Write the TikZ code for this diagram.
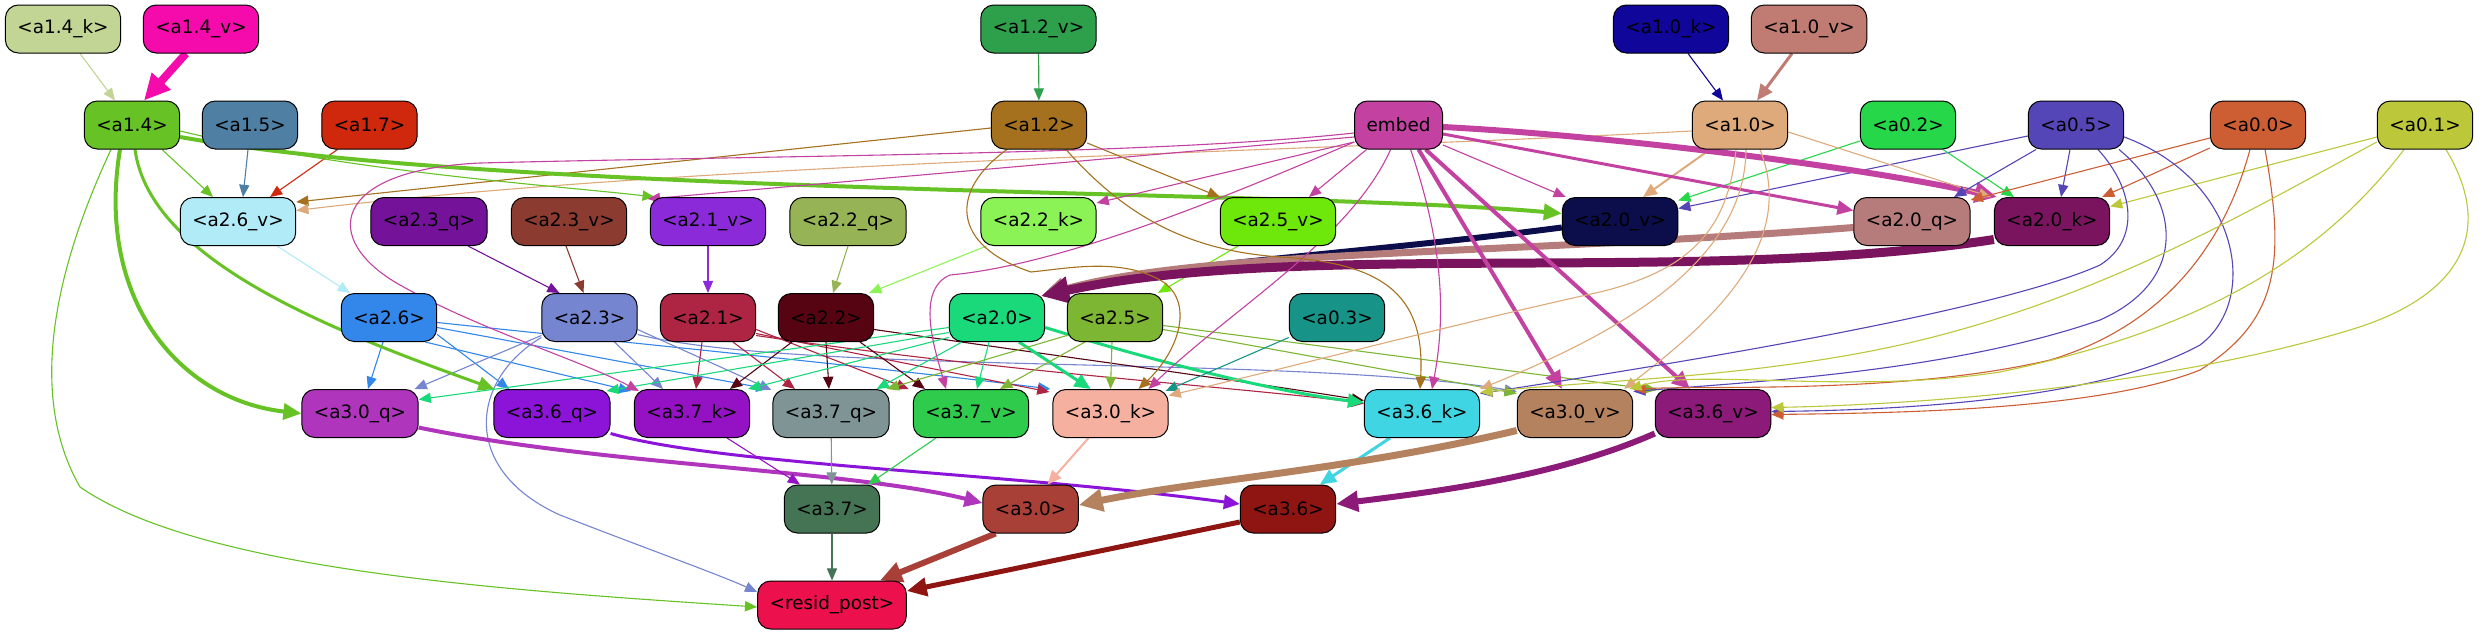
\documentclass[tikz,border=0pt]{standalone}
\usepackage{fontspec}
\setmainfont{DejaVu Sans}
\usetikzlibrary{arrows.meta}
\pgfdeclarelayer{bg}
\pgfsetlayers{bg,main}
\newcommand{\nodefont}{\fontsize{18.4pt}{22pt}\selectfont}
\definecolor{c14k}{HTML}{C2D595}
\definecolor{c14v}{HTML}{F50AAB}
\definecolor{c12v}{HTML}{2EA04C}
\definecolor{c10k}{HTML}{10069A}
\definecolor{c10v}{HTML}{C07B72}
\definecolor{c14}{HTML}{67C325}
\definecolor{c15}{HTML}{4F80A4}
\definecolor{c17}{HTML}{CF280C}
\definecolor{c12}{HTML}{A5711E}
\definecolor{cemb}{HTML}{C341A0}
\definecolor{c10}{HTML}{DEAA7B}
\definecolor{c02}{HTML}{27D74A}
\definecolor{c05}{HTML}{5546B8}
\definecolor{c00}{HTML}{CD5E34}
\definecolor{c01}{HTML}{BCC83A}
\definecolor{c26v}{HTML}{B2EBF8}
\definecolor{c23q}{HTML}{741399}
\definecolor{c23v}{HTML}{8C3B30}
\definecolor{c21v}{HTML}{8B2AD8}
\definecolor{c22q}{HTML}{96B455}
\definecolor{c22k}{HTML}{8CF356}
\definecolor{c25v}{HTML}{6EE70A}
\definecolor{c20v}{HTML}{0B0E4B}
\definecolor{c20q}{HTML}{B67B7B}
\definecolor{c20k}{HTML}{7A145E}
\definecolor{c26}{HTML}{3386EA}
\definecolor{c23}{HTML}{7585D0}
\definecolor{c21}{HTML}{AE2443}
\definecolor{c22}{HTML}{560312}
\definecolor{c20}{HTML}{19D97B}
\definecolor{c25}{HTML}{7DB632}
\definecolor{c03}{HTML}{179487}
\definecolor{c30q}{HTML}{B035BD}
\definecolor{c36q}{HTML}{8C14D8}
\definecolor{c37k}{HTML}{9511C4}
\definecolor{c37q}{HTML}{7E9495}
\definecolor{c37v}{HTML}{2ECB4C}
\definecolor{c30k}{HTML}{F6B0A0}
\definecolor{c36k}{HTML}{3FD5E2}
\definecolor{c30v}{HTML}{B58260}
\definecolor{c36v}{HTML}{8B1A79}
\definecolor{c37}{HTML}{447453}
\definecolor{c30}{HTML}{A94038}
\definecolor{c36}{HTML}{8E1511}
\definecolor{cres}{HTML}{EC104D}
\begin{document}
\begin{tikzpicture}[x=1pt,y=-1pt,
  nd/.style={draw=black, line width=1pt, rounded corners=13pt, minimum height=48pt,
    inner xsep=12pt, inner ysep=0pt, font=\nodefont, text=black},
  ed/.style={line width=#1, -{Triangle[length=10pt 2, width=8pt 2]}},
  ed/.default=1.1pt]
\useasboundingbox (0,0) rectangle (2482,635);
% row 1
\node[nd, fill=c14k] (a14k) at (63,29) {<a1.4\_k>};
\node[nd, fill=c14v] (a14v) at (201,29) {<a1.4\_v>};
\node[nd, fill=c12v] (a12v) at (1038.5,29) {<a1.2\_v>};
\node[nd, fill=c10k] (a10k) at (1671,29) {<a1.0\_k>};
\node[nd, fill=c10v] (a10v) at (1809,29) {<a1.0\_v>};
% row 2
\node[nd, fill=c14] (a14) at (132,125) {<a1.4>};
\node[nd, fill=c15] (a15) at (250,125) {<a1.5>};
\node[nd, fill=c17] (a17) at (369.5,125) {<a1.7>};
\node[nd, fill=c12] (a12) at (1039,125) {<a1.2>};
\node[nd, fill=cemb] (embed) at (1398.6,125) {embed};
\node[nd, fill=c10] (a10) at (1740,125) {<a1.0>};
\node[nd, fill=c02] (a02) at (1908,125) {<a0.2>};
\node[nd, fill=c05] (a05) at (2076,125) {<a0.5>};
\node[nd, fill=c00] (a00) at (2258,125) {<a0.0>};
\node[nd, fill=c01] (a01) at (2425,125) {<a0.1>};
% row 3
\node[nd, fill=c26v] (a26v) at (238,221.5) {<a2.6\_v>};
\node[nd, fill=c23q] (a23q) at (429,221.5) {<a2.3\_q>};
\node[nd, fill=c23v] (a23v) at (569,221.5) {<a2.3\_v>};
\node[nd, fill=c21v] (a21v) at (708,221.5) {<a2.1\_v>};
\node[nd, fill=c22q] (a22q) at (848,221.5) {<a2.2\_q>};
\node[nd, fill=c22k] (a22k) at (1038.5,221.5) {<a2.2\_k>};
\node[nd, fill=c25v] (a25v) at (1278,221.5) {<a2.5\_v>};
\node[nd, fill=c20v] (a20v) at (1620,221.5) {<a2.0\_v>};
\node[nd, fill=c20q] (a20q) at (1912,221.5) {<a2.0\_q>};
\node[nd, fill=c20k] (a20k) at (2052,221.5) {<a2.0\_k>};
% row 4
\node[nd, fill=c26] (a26) at (389,317.5) {<a2.6>};
\node[nd, fill=c23] (a23) at (589.5,317.5) {<a2.3>};
\node[nd, fill=c21] (a21) at (708,317.5) {<a2.1>};
\node[nd, fill=c22] (a22) at (826,317.5) {<a2.2>};
\node[nd, fill=c20] (a20) at (997,317.5) {<a2.0>};
\node[nd, fill=c25] (a25) at (1115,317.5) {<a2.5>};
\node[nd, fill=c03] (a03) at (1337,317.5) {<a0.3>};
% row 5
\node[nd, fill=c30q] (a30q) at (360,413.5) {<a3.0\_q>};
\node[nd, fill=c36q] (a36q) at (552,413.5) {<a3.6\_q>};
\node[nd, fill=c37k] (a37k) at (692,413.5) {<a3.7\_k>};
\node[nd, fill=c37q] (a37q) at (831,413.5) {<a3.7\_q>};
\node[nd, fill=c37v] (a37v) at (971,413.5) {<a3.7\_v>};
\node[nd, fill=c30k] (a30k) at (1110.5,413.5) {<a3.0\_k>};
\node[nd, fill=c36k] (a36k) at (1422,413.5) {<a3.6\_k>};
\node[nd, fill=c30v] (a30v) at (1575,413.5) {<a3.0\_v>};
\node[nd, fill=c36v] (a36v) at (1713,413.5) {<a3.6\_v>};
% row 6
\node[nd, fill=c37] (a37) at (832,509) {<a3.7>};
\node[nd, fill=c30] (a30) at (1030.6,509) {<a3.0>};
\node[nd, fill=c36] (a36) at (1288,509) {<a3.6>};
% row 7
\node[nd, fill=cres] (resid) at (832,605) {<resid\_post>};

\begin{pgfonlayer}{bg}
\fill[white] (0,0) rectangle (2482,635);
% row1 -> row2
\draw[ed, c14k] ([xshift=17pt]a14k.south) -- ([xshift=-17pt]a14.north);
\draw[ed=8pt, c14v] ([xshift=-15pt]a14v.south) -- ([xshift=12pt]a14.north);
\draw[ed, c12v] (a12v) -- (a12);
\draw[ed, c10k] ([xshift=17pt]a10k.south) -- ([xshift=-17pt]a10.north);
\draw[ed=3pt, c10v] ([xshift=-17pt]a10v.south) -- ([xshift=17pt]a10.north);
% row2 -> row3
\draw[ed, c14] ([xshift=30pt]a14.south) -- ([xshift=-25pt]a26v.north);
\draw[ed, c15] ([xshift=-2pt]a15.south) -- ([xshift=5pt]a26v.north);
\draw[ed, c17] ([xshift=-32pt]a17.south) -- ([xshift=32pt]a26v.north);
\draw[ed, c12] ([yshift=-3pt]a12.west) -- ([yshift=-5pt]a26v.north east);
\draw[ed, c10] ([yshift=-6pt]a10.west) .. controls (1300,152) and (700,162) .. ([yshift=11pt]a26v.east);
\draw[ed, c14] ([yshift=-6pt]a14.east) .. controls (350,172) and (550,185) .. ([xshift=5pt]a21v.north west);
\draw[ed=4pt, c14] ([yshift=-12pt]a14.east) .. controls (500,195) and (1300,190) .. ([yshift=8pt]a20v.west);
\draw[ed, cemb] ([yshift=-12pt]embed.west) -- ([xshift=-2pt,yshift=-2pt]a21v.north west);
\draw[ed, cemb] ([yshift=-17pt]embed.west) -- ([yshift=-6pt]a22k.north east);
\draw[ed, cemb] ([xshift=-32pt]embed.south) -- ([xshift=31pt]a25v.north);
\draw[ed, c12] ([yshift=-18pt]a12.east) -- (a25v.north west);
\draw[ed, cemb] ([yshift=-20pt]embed.east) -- ([xshift=4pt]a20v.north west);
\draw[ed=2pt, c10] ([xshift=-30pt]a10.south) -- ([xshift=23pt]a20v.north);
\draw[ed, c02] ([yshift=-16pt]a02.west) -- ([yshift=21pt]a20v.east);
\draw[ed, c05] ([yshift=-11pt]a05.west) -- ([yshift=13pt]a20v.east);
\draw[ed=3pt, cemb] ([yshift=-9pt]embed.east) -- ([yshift=11pt]a20q.west);
\draw[ed=6pt, cemb] ([yshift=-2pt]embed.east) .. controls (1600,135) and (1850,165) .. ([xshift=3pt]a20k.north west);
\draw[ed, c10] ([yshift=-7pt]a10.east) -- ([xshift=-3pt]a20k.north west);
\draw[ed, c02] ([xshift=35pt]a02.south) -- ([xshift=20pt]a20k.north west);
\draw[ed, c05] ([xshift=-40pt]a05.south) -- ([xshift=42pt]a20q.north);
\draw[ed, c05] ([xshift=-6pt]a05.south) -- ([xshift=9pt]a20k.north);
\draw[ed, c00] ([yshift=-13pt]a00.west) -- ([yshift=-3pt]a20q.north east);
\draw[ed, c00] ([yshift=-23pt]a00.west) -- ([xshift=-8pt]a20k.north east);
\draw[ed, c01] ([yshift=-12pt]a01.west) -- ([yshift=15pt]a20k.east);
% row3 -> row4
\draw[ed, c26v] ([xshift=39pt]a26v.south) -- ([xshift=-39pt]a26.north);
\draw[ed, c23q] ([xshift=39pt]a23q.south) -- ([xshift=-30pt]a23.north);
\draw[ed, c23v] ([xshift=-3pt]a23v.south) -- ([xshift=-6pt]a23.north);
\draw[ed, c21v] (a21v) -- (a21);
\draw[ed, c22q] (a22q.south) -- ([xshift=7pt]a22.north);
\draw[ed, c22k] ([xshift=-52pt]a22k.south) -- ([xshift=-5pt]a22.north east);
\draw[ed, c25v] ([xshift=-40pt]a25v.south) -- ([xshift=43pt]a25.north);
\draw[ed=6pt, c20v] ([yshift=-6pt]a20v.west) .. controls (1350,255) and (1150,265) .. ([xshift=-4pt,yshift=-3pt]a20.north east);
\draw[ed=7pt, c20q] ([yshift=-6pt]a20q.west) .. controls (1500,255) and (1200,250) .. ([xshift=-4pt,yshift=-3pt]a20.north east);
\draw[ed=9pt, c20k] ([yshift=-18pt]a20k.west) .. controls (1700,285) and (1300,240) .. ([xshift=-4pt,yshift=-3pt]a20.north east);
% row4 -> row5
\draw[ed, c26] ([xshift=-6pt]a26.south) -- ([xshift=8pt]a30q.north);
\draw[ed, c26] ([yshift=-17pt]a26.east) -- ([xshift=-43pt]a36q.north);
\draw[ed, c26] ([xshift=-12pt]a26.south east) -- ([xshift=-3pt,yshift=-2pt]a37k.north west);
\draw[ed, c26] ([yshift=-10pt]a26.east) -- ([xshift=-4pt]a37q.north west);
\draw[ed, c26] ([yshift=-5pt]a26.east) .. controls (700,350) and (900,370) .. ([xshift=-2pt]a30k.north west);
\draw[ed, c23] ([yshift=-18pt]a23.west) -- ([xshift=-4pt]a30q.north east);
\draw[ed, c23] ([xshift=25pt]a23.south) -- ([xshift=-29pt]a37k.north);
\draw[ed, c23] ([yshift=-12pt]a23.east) -- ([xshift=-1pt,yshift=-1pt]a37q.north west);
\draw[ed, c23] ([yshift=-17pt]a23.east) .. controls (800,375) and (1300,355) .. ([yshift=22pt]a30v.west);
\draw[ed, c23] ([yshift=-20pt]a23.west) .. controls (470,380) and (460,470) .. (560,515) .. controls (650,550) and (720,575) .. ([yshift=13pt]resid.west);
\draw[ed, c21] ([xshift=-6pt]a21.south) -- ([xshift=4pt]a37k.north);
\draw[ed, c21] ([xshift=25pt]a21.south) -- ([xshift=-36pt]a37q.north);
\draw[ed, c21] ([yshift=-12pt]a21.east) -- ([xshift=-4pt]a37v.north west);
\draw[ed, c21] ([yshift=-16pt]a21.east) -- ([xshift=-3pt,yshift=-3pt]a30k.north west);
\draw[ed, c21] ([yshift=-18pt]a21.east) .. controls (1000,372) and (1250,388) .. ([yshift=10pt]a36k.west);
\draw[ed, c22] ([xshift=-34pt]a22.south) -- ([xshift=38pt]a37k.north);
\draw[ed, c22] (a22.south) -- ([xshift=-2pt]a37q.north);
\draw[ed, c22] ([xshift=34pt]a22.south) -- ([xshift=-46pt]a37v.north);
\draw[ed, c22] ([yshift=-12pt]a22.east) .. controls (1100,362) and (1250,382) .. ([yshift=13pt]a36k.west);
\draw[ed, c20] ([yshift=-10pt]a20.west) -- ([yshift=14pt]a30q.east);
\draw[ed, c20] ([yshift=-15pt]a20.west) -- ([xshift=-4pt,yshift=-2pt]a36q.north east);
\draw[ed, c20] ([yshift=-20pt]a20.west) -- ([xshift=-2pt]a37k.north east);
\draw[ed, c20] ([xshift=-35pt]a20.south) -- ([xshift=-13pt]a37q.north east);
\draw[ed, c20] ([xshift=-8pt]a20.south) -- ([xshift=6pt]a37v.north);
\draw[ed=3pt, c20] ([xshift=22pt]a20.south) -- ([xshift=-20pt]a30k.north);
\draw[ed=3pt, c20] ([yshift=-10pt]a20.east) .. controls (1200,375) and (1300,395) .. ([yshift=11pt]a36k.west);
\draw[ed, c25] ([yshift=-18pt]a25.west) -- ([xshift=-3pt]a37q.north east);
\draw[ed, c25] ([xshift=-30pt]a25.south) -- ([xshift=29pt]a37v.north);
\draw[ed, c25] ([xshift=-3pt]a25.south) -- (a30k.north);
\draw[ed, c25] ([yshift=-12pt]a25.east) -- ([yshift=20pt]a30v.west);
\draw[ed, c25] ([yshift=-8pt]a25.east) -- ([xshift=2pt,yshift=-1pt]a36v.north west);
\draw[ed, c03] ([yshift=-20pt]a03.west) -- ([xshift=-3pt,yshift=-2pt]a30k.north east);
% embed long edges
\draw[ed, cemb] ([yshift=-8pt]embed.west) .. controls (1150,155) and (800,155) .. (480,163) .. controls (330,170) and (320,240) .. (400,285) .. controls (480,330) and (580,360) .. ([xshift=5pt,yshift=-2pt]a37k.north west);
\draw[ed, cemb] ([yshift=-17pt]embed.west) .. controls (1220,200) and (1060,265) .. (950,275) .. controls (915,290) and (935,350) .. ([xshift=-25pt]a37v.north);
\draw[ed, cemb] ([xshift=-8pt]embed.south) .. controls (1350,240) and (1230,310) .. ([xshift=38pt]a30k.north);
\draw[ed, cemb] ([xshift=12pt]embed.south) .. controls (1445,250) and (1445,320) .. ([xshift=10pt]a36k.north);
\draw[ed=4pt, cemb] ([xshift=20pt]embed.south) -- ([xshift=-13pt]a30v.north);
\draw[ed=4pt, cemb] ([xshift=27pt]embed.south) -- ([xshift=-23pt]a36v.north);
% a1.2 long edges
\draw[ed, c12] ([xshift=-32pt]a12.south) .. controls (950,190) and (950,245) .. (1031,272) .. controls (1070,268) and (1120,258) .. (1160,280) .. controls (1195,300) and (1180,350) .. ([xshift=28pt]a30k.north);
\draw[ed, c12] ([xshift=27pt]a12.south) .. controls (1120,210) and (1180,250) .. (1280,257) .. controls (1390,263) and (1425,300) .. ([xshift=-2pt]a36k.north);
% a1.0 long edges
\draw[ed, c10] ([xshift=-4pt]a10.south) .. controls (1728,230) and (1690,270) .. (1600,292) .. controls (1450,325) and (1300,365) .. ([yshift=18pt]a30k.east);
\draw[ed, c10] ([xshift=6pt]a10.south) .. controls (1745,270) and (1600,340) .. (a36k.north east);
\draw[ed, c10] ([xshift=20pt]a10.south) .. controls (1800,250) and (1700,330) .. ([xshift=-9pt]a30v.north east);
% a0.5 long edges
\draw[ed, c05] ([xshift=22pt]a05.south) .. controls (2135,190) and (2140,240) .. (2100,265) .. controls (2000,310) and (1700,360) .. ([yshift=20pt]a36k.east);
\draw[ed, c05] ([xshift=43pt]a05.south) .. controls (2180,200) and (2190,280) .. (2100,320) .. controls (1950,372) and (1750,382) .. ([yshift=22pt]a30v.east);
\draw[ed, c05] ([yshift=-12pt]a05.east) .. controls (2240,180) and (2260,300) .. (2200,345) .. controls (2100,400) and (1900,410) .. ([yshift=2pt]a36v.east);
% a0.0 long edges
\draw[ed, c00] ([xshift=-8pt]a00.south) .. controls (2220,260) and (2150,330) .. (2050,360) .. controls (1900,395) and (1700,385) .. ([yshift=24pt]a30v.east);
\draw[ed, c00] ([xshift=7pt]a00.south) .. controls (2285,260) and (2280,320) .. (2200,370) .. controls (2100,410) and (1900,413) .. ([yshift=-1pt]a36v.east);
% a0.1 long edges
\draw[ed, c01] ([yshift=-17pt]a01.west) .. controls (2250,210) and (2100,300) .. (1900,345) .. controls (1750,378) and (1600,380) .. ([yshift=21pt]a36k.east);
\draw[ed, c01] ([xshift=-21pt]a01.south) .. controls (2320,260) and (2200,330) .. (2000,372) .. controls (1850,395) and (1700,368) .. ([xshift=-4pt]a30v.north east);
\draw[ed, c01] ([xshift=21pt]a01.south) .. controls (2500,240) and (2450,300) .. (2350,330) .. controls (2150,390) and (1900,405) .. ([yshift=6pt]a36v.east);
% a1.4 long edges
\draw[ed=4pt, c14] ([xshift=-12pt]a14.south) .. controls (95,300) and (180,400) .. (a30q.west);
\draw[ed=3pt, c14] ([xshift=3pt]a14.south) .. controls (150,260) and (330,330) .. ([xshift=1pt]a36q.north west);
\draw[ed, c14] ([xshift=-21pt]a14.south) .. controls (50,280) and (30,400) .. (80,487) .. controls (200,570) and (500,590) .. ([yshift=-2pt]resid.west);
% row5 -> row6
\draw[ed=4pt, c30q] ([yshift=-14pt]a30q.east) .. controls (600,465) and (850,470) .. ([yshift=6pt]a30.west);
\draw[ed=3pt, c36q] ([yshift=-20pt]a36q.east) .. controls (720,465) and (1000,472) .. ([yshift=5pt]a36.west);
\draw[ed, c37k] ([xshift=35pt]a37k.south) -- ([xshift=-32pt]a37.north);
\draw[ed, c37q] (a37q) -- (a37);
\draw[ed, c37v] ([xshift=-35pt]a37v.south) -- ([xshift=36pt]a37.north);
\draw[ed=2pt, c30k] ([xshift=-22pt]a30k.south) -- ([xshift=17pt]a30.north);
\draw[ed=3pt, c36k] ([xshift=-32pt]a36k.south) -- ([xshift=32pt]a36.north);
\draw[ed=7pt, c30v] ([yshift=-17pt]a30v.west) .. controls (1350,470) and (1200,480) .. ([yshift=4pt]a30.east);
\draw[ed=6pt, c36v] ([yshift=-20pt]a36v.west) .. controls (1560,475) and (1450,490) .. ([yshift=5pt]a36.east);
% row6 -> row7
\draw[ed, c37] (a37) -- (resid);
\draw[ed=6pt, c30] ([xshift=-35pt]a30.south) -- ([xshift=48pt]resid.north);
\draw[ed=5pt, c36] ([yshift=-13pt]a36.west) -- ([yshift=14pt]resid.east);
\end{pgfonlayer}
\end{tikzpicture}
\end{document}
